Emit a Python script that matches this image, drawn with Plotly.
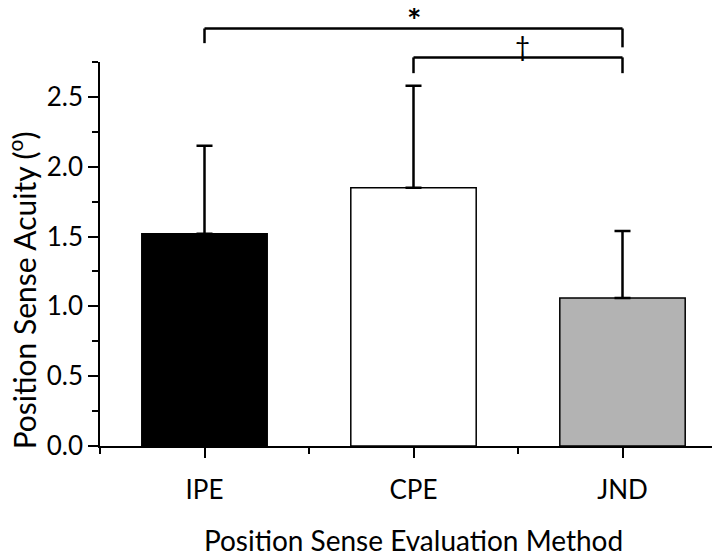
import plotly.graph_objects as go

categories = ["IPE", "CPE", "JND"]
means = [1.52, 1.85, 1.06]
sd_upper = [0.63, 0.73, 0.48]
bar_colors = ["#000000", "#ffffff", "#b3b3b3"]
y_ticks = [0.0, 0.5, 1.0, 1.5, 2.0, 2.5]
y_minor = [0.25, 0.75, 1.25, 1.75, 2.25, 2.75]
YMAX = 2.75
Y_TITLE = "Position Sense Acuity (<sup>o</sup>)"
X_TITLE = "Position Sense Evaluation Method"

# significance brackets: (from index, to index, level, left drop, right drop, symbol, symbol x, symbol y, size)
brackets = [
    (0, 2, 2.99, 2.885, 2.855, "<b>*</b>", 1.0, 3.055, 34),
    (1, 2, 2.783, 2.67, 2.67, "†", 1.52, 2.865, 26),
]

xpos = list(range(len(categories)))
FONT = "Lato"


def p(v):
    return v / YMAX


fig = go.Figure()
fig.add_trace(go.Bar(
    x=xpos, y=means, width=0.6,
    marker=dict(color=bar_colors, line=dict(color="black", width=1.5)),
    error_y=dict(type="data", symmetric=False, array=sd_upper,
                 arrayminus=[0] * len(means), color="black",
                 thickness=2.5, width=8),
    showlegend=False,
))

shapes = []
annotations = []
for i0, i1, lvl, d0, d1, sym, sx, sy, fs in brackets:
    shapes += [
        dict(type="line", xref="x", yref="paper", x0=i0, x1=i1, y0=p(lvl), y1=p(lvl),
             line=dict(color="black", width=2.5)),
        dict(type="line", xref="x", yref="paper", x0=i0, x1=i0, y0=p(lvl), y1=p(d0),
             line=dict(color="black", width=2.5)),
        dict(type="line", xref="x", yref="paper", x0=i1, x1=i1, y0=p(lvl), y1=p(d1),
             line=dict(color="black", width=2.5)),
    ]
    annotations.append(dict(x=sx, y=p(sy), xref="x", yref="paper", text=sym, showarrow=False,
                            yanchor="middle",
                            font=dict(family=FONT, size=fs, color="black")))

# y-axis title placed as rotated annotation (slightly below plot centre, as in the original)
annotations.append(dict(text=Y_TITLE, textangle=-90, xref="paper", yref="paper",
                        x=-0.123, y=0.405, xanchor="center", yanchor="middle",
                        showarrow=False, font=dict(family=FONT, size=30, color="black")))

fig.update_layout(
    width=720, height=559,
    margin=dict(l=92, r=1, t=54, b=121),
    paper_bgcolor="white", plot_bgcolor="white",
    font=dict(family=FONT, color="black", size=26),
    shapes=shapes, annotations=annotations,
    xaxis=dict(
        range=[-0.5, 2.5], tickvals=xpos, ticktext=categories,
        showline=True, linecolor="black", linewidth=1.5,
        ticks="outside", ticklen=10, tickwidth=1.5, tickcolor="black",
        minor=dict(tickvals=[-0.5, 0.5, 1.5, 2.5], ticks="outside", ticklen=6,
                   tickwidth=1.5, tickcolor="black"),
        showgrid=False, zeroline=False,
        tickfont=dict(size=26), ticklabelstandoff=10,
        title=dict(text=X_TITLE, font=dict(size=28), standoff=27),
    ),
    yaxis=dict(
        range=[0, YMAX], tickvals=y_ticks, ticktext=[f"{v:.1f}" for v in y_ticks],
        showline=True, linecolor="black", linewidth=1.5,
        ticks="outside", ticklen=10, tickwidth=1.5, tickcolor="black",
        minor=dict(tickvals=y_minor, ticks="outside", ticklen=6,
                   tickwidth=1.5, tickcolor="black"),
        showgrid=False, zeroline=False,
        tickfont=dict(size=26),
    ),
)

fig.write_html("out.html")
